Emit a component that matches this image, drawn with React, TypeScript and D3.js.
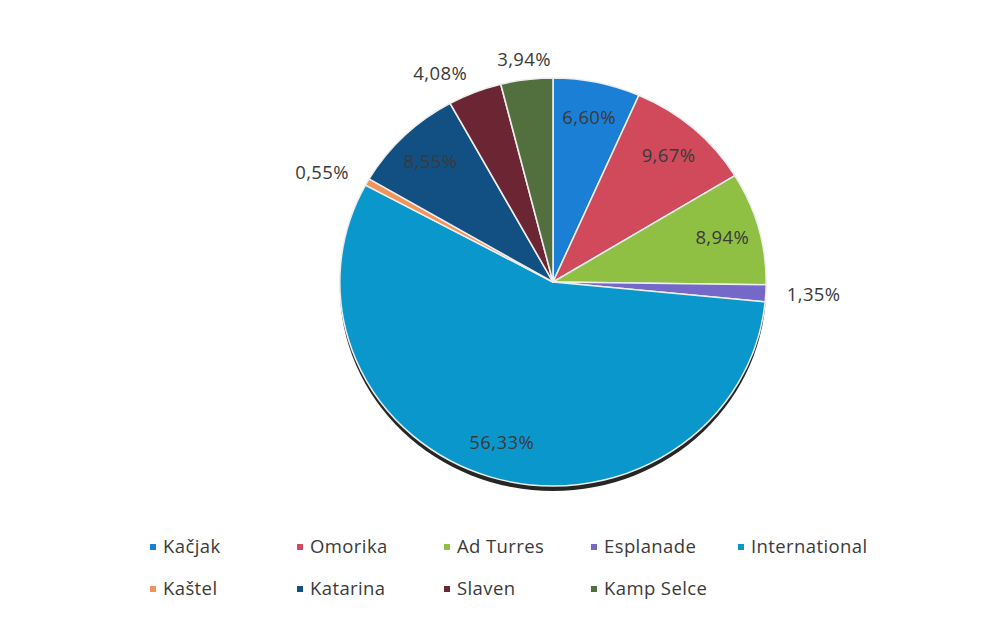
import React, { useEffect, useRef } from 'react';
import * as d3 from 'd3';

const categories = ['Kačjak', 'Omorika', 'Ad Turres', 'Esplanade', 'International', 'Kaštel', 'Katarina', 'Slaven', 'Kamp Selce'];
const shares = [6.60, 9.67, 8.94, 1.35, 56.33, 0.55, 8.55, 4.08, 3.94];
const labels = ['6,60%', '9,67%', '8,94%', '1,35%', '56,33%', '0,55%', '8,55%', '4,08%', '3,94%'];
const colors = ['#1c7fd6', '#d04a5c', '#8fc044', '#7468c8', '#0a97cc', '#f0955a', '#124f82', '#6b2533', '#52703e'];

const App = () => {
    const chartRef = useRef(null);

    useEffect(() => {
        const svg = d3.select(chartRef.current);
        svg.selectAll("*").remove();

        const width = 987;
        const height = 618;
        const cx = 553;
        const cy = 282;
        const radius = 204;
        const sx = 1.045;

        svg.attr("width", width)
           .attr("height", height)
           .style("display", "block")
           .style("background", "#fff");

        const data = categories.map((name, i) => ({ name, value: shares[i], label: labels[i], color: colors[i] }));

        const pie = d3.pie()
                      .value(d => d.value)
                      .sort(null);

        const path = d3.arc()
                       .outerRadius(radius)
                       .innerRadius(0);

        const inner = d3.arc()
                        .outerRadius(168)
                        .innerRadius(168);

        // slightly wider than tall, like the scanned original
        const g = svg.append("g")
                     .attr("transform", `translate(${cx}, ${cy}) scale(${sx}, 1)`);

        // dark rim at the bottom
        g.append("circle")
         .attr("cx", 0)
         .attr("cy", 5)
         .attr("r", radius)
         .attr("fill", "#262626");

        const arcs = pie(data);

        g.selectAll(".arc")
         .data(arcs)
         .enter().append("path")
         .attr("class", "arc")
         .attr("d", path)
         .attr("fill", d => d.data.color)
         .attr("stroke", "#eeeeee")
         .attr("stroke-width", 1.5)
         .attr("stroke-linejoin", "round");

        const lab = svg.append("g")
                       .attr("transform", `translate(${cx}, ${cy})`)
                       .style("font-family", "'Open Sans', sans-serif")
                       .style("font-size", "18.5px")
                       .style("letter-spacing", "0.4px")
                       .attr("fill", "#3a3a3a");

        arcs.forEach(d => {
            const mid = (d.startAngle + d.endAngle) / 2;
            const small = d.data.value < 5;
            let x, y, anchor = "middle";
            if (small) {
                const r = 224;
                x = Math.sin(mid) * r * sx;
                y = -Math.cos(mid) * r;
                const s = Math.sin(mid);
                if (s > 0.3) anchor = "start";
                else if (s < -0.3) anchor = "end";
            } else {
                const c = inner.centroid(d);
                x = c[0] * sx;
                y = c[1];
            }
            lab.append("text")
               .attr("x", x)
               .attr("y", y)
               .attr("dy", "0.35em")
               .attr("text-anchor", anchor)
               .text(d.data.label);
        });

        const legend = svg.append("g")
                          .style("font-family", "'Open Sans', sans-serif")
                          .style("font-size", "18.5px")
                          .style("letter-spacing", "0.4px")
                          .attr("fill", "#3a3a3a");

        data.forEach((d, i) => {
            const col = i % 5;
            const row = Math.floor(i / 5);
            const x = 150 + col * 147;
            const y = 547 + row * 42;
            legend.append("rect")
                  .attr("x", x)
                  .attr("y", y - 3)
                  .attr("width", 6)
                  .attr("height", 6)
                  .attr("fill", d.color);
            legend.append("text")
                  .attr("x", x + 13)
                  .attr("y", y)
                  .attr("dy", "0.35em")
                  .text(d.name);
        });
    }, []);

    return <svg ref={chartRef} style={{ position: 'absolute', left: 0, top: 0 }}></svg>;
};

export default App;
